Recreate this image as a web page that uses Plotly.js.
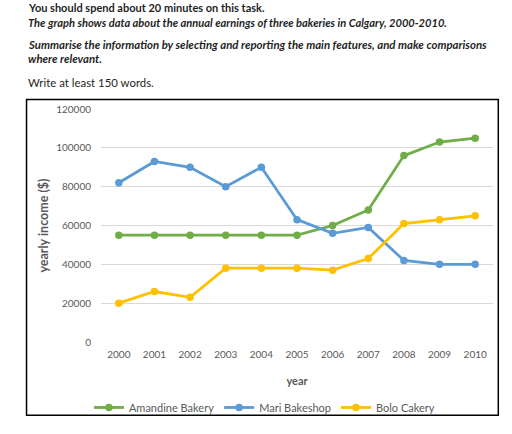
<!DOCTYPE html>
<html>
<head>
<meta charset="utf-8">
<script src="https://cdn.plot.ly/plotly-3.0.1.min.js"></script>
<style>
html,body{margin:0;padding:0;background:#fff;}
#chart{width:512px;height:434px;}
</style>
</head>
<body>
<div id="chart"></div>
<script>
// ---- data ----
const years = ["2000","2001","2002","2003","2004","2005","2006","2007","2008","2009","2010"];
const amandine = [55000,55000,55000,55000,55000,55000,60000,68000,96000,103000,105000];
const mari     = [82000,93000,90000,80000,90000,63000,56000,59000,42000,40000,40000];
const bolo     = [20000,26000,23000,38000,38000,38000,37000,43000,61000,63000,65000];
const seriesNames = ["Amandine Bakery","Mari Bakeshop","Bolo Cakery"];
const yTicks = [0,20000,40000,60000,80000,100000,120000];
const docLines = [
  "You should spend about 20 minutes on this task.",
  "The graph shows data about the annual earnings of three bakeries in Calgary, 2000-2010.",
  "Summarise the information by selecting and reporting the main features, and make comparisons",
  "where relevant.",
  "Write at least 150 words."
];

// ---- layout geometry (pixels) ----
const W = 512, H = 434;
const L = 100.5, R = 492.7, T = 109, B = 346.7;
const pw = R - L, ph = B - T;
const px = x => (x - L) / pw;
const py = y => (B - y) / ph;

const FONT = "Lato, 'Open Sans', sans-serif";
const colors = ["#70AD47", "#5B9BD5", "#FFC000"];
const vals = [amandine, mari, bolo];

const traces = vals.map((v, i) => ({
  type: "scatter",
  mode: "lines+markers",
  name: seriesNames[i],
  x: years,
  y: v,
  line: {color: colors[i], width: 2.8},
  marker: {color: colors[i], size: 7.5}
}));

const textColor = "#1f1f1f";
const docStyles = [
  {y: 5.5, bold: true, italic: false, size: 11},
  {y: 20.5, bold: true, italic: true, size: 11.1},
  {y: 43.5, bold: true, italic: true, size: 11.4},
  {y: 57.5, bold: true, italic: true, size: 11.4},
  {y: 81.5, bold: false, italic: false, size: 11.4}
];
const annotations = docLines.map((t, i) => {
  const s = docStyles[i];
  let txt = t;
  if (s.bold) txt = "<b>" + txt + "</b>";
  if (s.italic) txt = "<i>" + txt + "</i>";
  return {
    xref: "paper", yref: "paper",
    x: px(26), y: py(s.y),
    xanchor: "left", yanchor: "middle",
    showarrow: false,
    borderpad: 0,
    text: txt,
    font: {family: FONT, size: s.size, color: textColor}
  };
});

const layout = {
  width: W, height: H,
  margin: {l: L, r: W - R, t: T, b: H - B, pad: 0},
  paper_bgcolor: "#ffffff",
  plot_bgcolor: "#ffffff",
  font: {family: FONT, color: "#595959"},
  showlegend: true,
  legend: {
    orientation: "h",
    x: px(264), xanchor: "center",
    y: py(413.5), yanchor: "middle",
    font: {family: FONT, size: 11, color: "#595959"},
    bgcolor: "rgba(0,0,0,0)",
    itemwidth: 30
  },
  xaxis: {
    type: "category",
    categoryorder: "array",
    categoryarray: years,
    range: [-0.5, 10.5],
    showgrid: false,
    zeroline: false,
    showline: false,
    ticks: "",
    tickfont: {family: FONT, size: 10, color: "#595959"},
    ticklabelstandoff: 5,
    title: {text: "<b>year</b>", font: {family: FONT, size: 11, color: "#595959"}, standoff: 18}
  },
  yaxis: {
    range: [0, 120000],
    tickvals: yTicks,
    ticktext: yTicks.map(String),
    showgrid: true,
    gridcolor: "#d9d9d9",
    gridwidth: 1,
    zeroline: false,
    showline: false,
    ticks: "",
    tickfont: {family: FONT, size: 10, color: "#595959"},
    ticklabelstandoff: 9,
    title: {text: "<b>yearly income ($)</b>", font: {family: FONT, size: 12.5, color: "#595959"}, standoff: 4}
  },
  shapes: [{
    type: "rect", xref: "paper", yref: "paper",
    x0: px(26), x1: px(498), y0: py(421.5), y1: py(99.3),
    line: {color: "#000000", width: 1.5},
    fillcolor: "rgba(0,0,0,0)",
    layer: "below"
  }],
  annotations: annotations
};

Plotly.newPlot("chart", traces, layout, {displayModeBar: false, staticPlot: true});
</script>
</body>
</html>
